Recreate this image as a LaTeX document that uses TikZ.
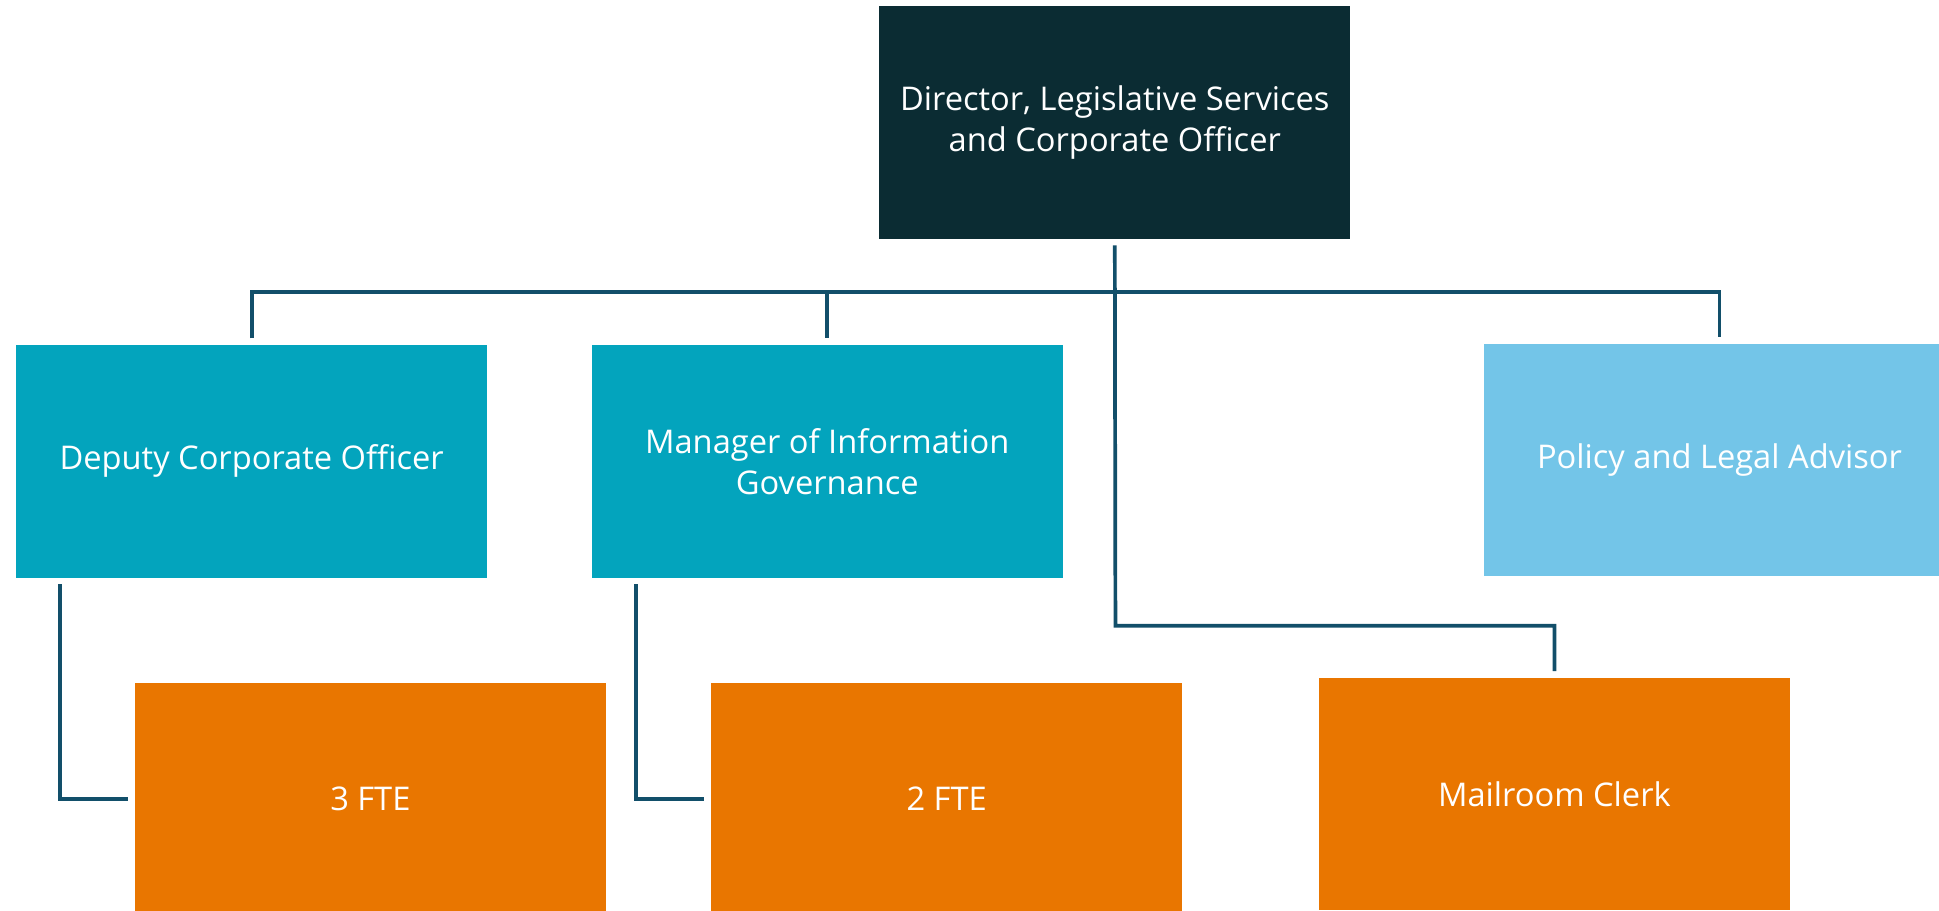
\documentclass[tikz,border=0pt]{standalone}
\usepackage{fontspec}
\setmainfont{Open Sans}
\definecolor{dircol}{RGB}{11,44,51}
\definecolor{deputycol}{RGB}{3,164,189}
\definecolor{policycol}{RGB}{115,197,232}
\definecolor{staffcol}{RGB}{233,118,0}
\definecolor{linkcol}{RGB}{18,79,106}
\usetikzlibrary{positioning}

\begin{document}
\begin{tikzpicture}[x=0.5pt, y=-0.5pt, font=\fontsize{13.2}{16.5}\selectfont,
  post/.style={rectangle, minimum width=190.5pt, minimum height=94pt, inner sep=0pt, align=center, text=white},
  link/.style={draw=linkcol, line width=1.5pt, shorten >=2.5pt, shorten <=2.5pt}]
  \useasboundingbox (0,0) rectangle (1568,736);
  \clip (0,0) rectangle (1568,736);
  \node[post, fill=dircol] (dir) at (901.5,99) {Director, Legislative Services\\and Corporate Officer};
  \node[post, fill=deputycol] (dep) at (203.5,373) {Deputy Corporate Officer};
  \node[post, fill=deputycol] (man) at (669,373) {Manager of Information\\Governance};
  \node[post, fill=policycol] (pol) at (1390.5,372) {Policy and Legal Advisor};
  \node[post, fill=staffcol] (fte3) at (299.5,646) {3 FTE};
  \node[post, fill=staffcol] (fte2) at (765.5,646) {2 FTE};
  \node[post, fill=staffcol] (mail) at (1257,642) {Mailroom Clerk};
  \coordinate (bus) at (902,236);
  \coordinate (mailbus) at (902,506);
  \draw[link] (dir.south) -- (mailbus) -| (mail.north);
  \draw[link] (dep.north) |- (bus) -| (pol.north);
  \draw[link, shorten <=0pt] (bus) -| (man.north);
  \draw[link] ([xshift=18pt]dep.south west) |- (fte3.west);
  \draw[link] ([xshift=18pt]man.south west) |- (fte2.west);
\end{tikzpicture}
\end{document}
